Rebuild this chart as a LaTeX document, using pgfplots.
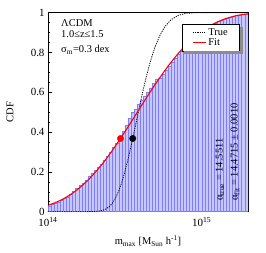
\documentclass[border=0pt]{standalone}
\usepackage{fontspec}
\setmainfont{Liberation Serif}
\usepackage{pgfplots}
\pgfplotsset{compat=1.18}
\usetikzlibrary{calc}
\definecolor{barfill}{RGB}{200,200,255}
\definecolor{barline}{RGB}{125,125,255}
\begin{document}
\begin{tikzpicture}
\begin{axis}[
  scale only axis, width=200bp, height=199bp,
  xmin=14, xmax=15.30103, ymin=0, ymax=1,
  axis line style={line width=0.7pt},
  xtick={14,15}, xticklabels={10\textsuperscript{14},10\textsuperscript{15}},
  minor xtick={14.30103,14.47712,14.60206,14.69897,14.77815,14.84510,14.90309,14.95424,15.30103},
  ytick={0,0.2,0.4,0.6,0.8,1},
  minor y tick num=3,
  tick align=inside, xtick pos=bottom, ytick pos=left,
  major tick length=4.5bp, minor tick length=2.5bp,
  tick style={line width=0.6pt,black},
  /pgf/number format/assume math mode=true,
  ticklabel style={font=\fontsize{11}{13}\selectfont},
  xticklabel style={yshift=-2bp},
  xlabel={m\textsubscript{max} [M\textsubscript{Sun} h\textsuperscript{-1}]},
  ylabel={CDF},
  label style={font=\fontsize{10.5}{12}\selectfont},
  xlabel style={at={(axis description cs:0.5,-0.147)}, anchor=center},
  ylabel style={at={(axis description cs:-0.19,0.5)}, anchor=center},
  legend style={name=mylegend, at={(axis description cs:0.96,0.942)}, anchor=north east,
    draw=black, line width=0.6pt, fill=white, font=\fontsize{10.5}{11}\selectfont,
    inner xsep=10bp, inner ysep=1.8bp, row sep=-2bp},
  legend cell align=left,
  legend image code/.code={\draw[#1] (0bp,0bp) -- (13bp,0bp);},
]
% histogram (empirical CDF), bins of 0.02 dex in log10 m
\addplot[ybar interval, fill=barfill, draw=barline, line width=0.4pt, forget plot] coordinates {
(14.00,0.030)(14.02,0.036)(14.04,0.042)(14.06,0.049)(14.08,0.057)(14.10,0.066)(14.12,0.075)
(14.14,0.086)(14.16,0.101)(14.18,0.118)(14.20,0.131)(14.22,0.145)(14.24,0.160)(14.26,0.177)
(14.28,0.193)(14.30,0.210)(14.32,0.226)(14.34,0.240)(14.36,0.259)(14.38,0.279)(14.40,0.298)
(14.42,0.322)(14.44,0.345)(14.46,0.372)(14.48,0.403)(14.50,0.436)(14.52,0.470)(14.54,0.498)
(14.56,0.514)(14.58,0.540)(14.60,0.560)(14.62,0.580)(14.64,0.600)(14.66,0.623)(14.68,0.646)
(14.70,0.664)(14.72,0.672)(14.74,0.690)(14.76,0.710)(14.78,0.730)(14.80,0.750)(14.82,0.770)
(14.84,0.790)(14.86,0.809)(14.88,0.826)(14.90,0.842)(14.92,0.856)(14.94,0.870)(14.96,0.884)
(14.98,0.897)(15.00,0.910)(15.02,0.921)(15.04,0.931)(15.06,0.940)(15.08,0.948)(15.10,0.956)
(15.12,0.962)(15.14,0.968)(15.16,0.973)(15.18,0.978)(15.20,0.982)(15.22,0.986)(15.24,0.989)
(15.26,0.991)(15.28,0.994)(15.30,0.994)
};
% true CDF
\addplot[black, line width=0.8pt, dash pattern=on 1.2bp off 1.1bp] coordinates {
(14.00,0)(14.25,0.00004)(14.30,0.0007)(14.35,0.0054)(14.375,0.0126)(14.40,0.0264)(14.42,0.0441)
(14.44,0.0695)(14.46,0.1038)(14.48,0.1475)(14.50,0.2004)(14.52,0.2613)(14.54,0.3286)
(14.56,0.4000)(14.58,0.4732)(14.60,0.5456)(14.62,0.6150)(14.64,0.6798)(14.66,0.7385)
(14.68,0.7904)(14.70,0.8353)(14.73,0.8896)(14.76,0.9295)(14.80,0.9646)(14.85,0.9875)
(14.90,0.9967)(14.95,0.9995)(15.00,1.0)(15.30,1.0)
};
\addlegendentry{True}
% fitted CDF
\addplot[red, line width=1.1pt, smooth] coordinates {
(14.00,0.0323)(14.05,0.0463)(14.10,0.0646)(14.15,0.0880)(14.20,0.1167)(14.25,0.1511)
(14.30,0.1913)(14.35,0.2371)(14.40,0.2880)(14.45,0.3431)(14.50,0.4015)(14.55,0.4619)
(14.60,0.5232)(14.65,0.5838)(14.70,0.6426)(14.75,0.6984)(14.80,0.7502)(14.85,0.7974)
(14.90,0.8394)(14.95,0.8758)(15.00,0.9068)(15.05,0.9324)(15.10,0.9528)(15.15,0.9687)
(15.20,0.9805)(15.25,0.9888)(15.30,0.9943)
};
\addlegendentry{Fit}
\addplot[only marks, mark=*, mark size=3.2pt, red, forget plot] coordinates {(14.4715,0.3679)};
\addplot[only marks, mark=*, mark size=3.2pt, black, forget plot] coordinates {(14.5511,0.3679)};
\node[anchor=base west, font=\fontsize{10.5}{12}\selectfont, inner sep=0pt] at (axis description cs:0.065,0.933) {ΛCDM};
\node[anchor=base west, font=\fontsize{10.5}{12}\selectfont, inner sep=0pt] at (axis description cs:0.065,0.874) {1.0≤z≤1.5};
\node[anchor=base west, font=\fontsize{10.5}{12}\selectfont, inner sep=0pt] at (axis description cs:0.065,0.799) {σ\textsubscript{m}=0.3 dex};
\node[anchor=west, rotate=90, font=\fontsize{10.5}{12}\selectfont, inner sep=0pt] at (axis description cs:0.86,0.054) {α\textsubscript{true} = 14.5511};
\node[anchor=west, rotate=90, font=\fontsize{10.5}{12}\selectfont, inner sep=0pt] at (axis description cs:0.935,0.054) {α\textsubscript{fit} = 14.4715 ± 0.0010};
\end{axis}
\fill[black!45] ($(mylegend.south west)+(2.5bp,-0.3bp)$) rectangle ($(mylegend.south east)+(2.8bp,-2.8bp)$);
\fill[black!45] ($(mylegend.north east)+(0.3bp,-2.5bp)$) rectangle ($(mylegend.south east)+(2.8bp,-0.3bp)$);
\path (current axis.south west) ++(-48bp,-41.3bp) rectangle ++(266bp,253bp);
\end{tikzpicture}
\end{document}
